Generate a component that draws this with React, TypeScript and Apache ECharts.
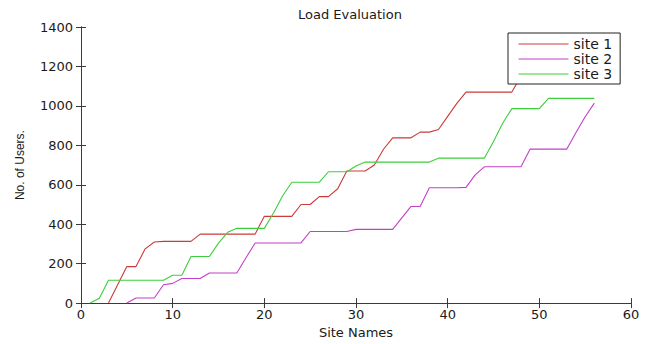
import React, { useEffect, useRef } from "react";
import * as echarts from "echarts";

const titleText = "Load Evaluation";
const xAxisName = "Site Names";
const yAxisName = "No. of Users.";
const seriesNames = ["site 1", "site 2", "site 3"];
const seriesColors = ["#cc3a3a", "#c440c8", "#3ccf3c"];

const xTicks = { min: 0, max: 60, interval: 10 };
const yTicks = { min: 0, max: 1400, interval: 200 };

// each series: first site index, then one value per site
const site1Start = 3;
const site1Values = [
  0, 93, 185, 185, 275, 310, 313, 313, 313, 313, 350, 350, 350, 350, 350, 350, 350,
  440, 440, 440, 440, 500, 500, 540, 540, 580, 670, 670, 670, 700, 780, 838, 838, 838,
  867, 867, 880, 947, 1013, 1070, 1070, 1070, 1070, 1070, 1070, 1150, 1200, 1210, 1210,
  1210, 1210, 1240, 1270, 1290,
];

const site2Start = 5;
const site2Values = [
  0, 26, 26, 26, 93, 100, 125, 125, 125, 153, 153, 153, 153, 230, 305, 305, 305, 305,
  305, 305, 363, 363, 363, 363, 363, 374, 374, 374, 374, 374, 432, 490, 490, 585, 585,
  585, 585, 587, 650, 691, 691, 691, 691, 691, 781, 781, 781, 781, 781, 865, 945, 1014,
];

const site3Start = 1;
const site3Values = [
  0, 25, 116, 116, 116, 116, 116, 116, 116, 141, 141, 236, 236, 236, 304, 359, 379,
  379, 379, 379, 457, 544, 613, 613, 613, 613, 666, 666, 666, 695, 715, 715, 715, 715,
  715, 715, 715, 715, 735, 735, 735, 735, 735, 735, 819, 912, 986, 986, 986, 986, 1038,
  1038, 1038, 1038, 1038, 1038,
];

const toPairs = (start: number, vals: number[]) => vals.map((v, i) => [start + i, v]);

const FONT = "DejaVu Sans";
const AXIS_COLOR = "#3a3a3a";
const TEXT_COLOR = "#1a1a1a";

export default function App() {
  const ref = useRef<HTMLDivElement>(null);
  useEffect(() => {
    if (!ref.current) return;
    const chart = echarts.init(ref.current, undefined, { renderer: "svg" });
    const tickStyle = { show: true, inside: true, length: 5, lineStyle: { color: AXIS_COLOR } };
    const lineStyle = { show: true, lineStyle: { color: AXIS_COLOR, width: 1 } };
    const plain = (v: number) => String(v);
    const seriesData = [
      toPairs(site1Start, site1Values),
      toPairs(site2Start, site2Values),
      toPairs(site3Start, site3Values),
    ];
    chart.setOption({
      animation: false,
      backgroundColor: "#ffffff",
      title: {
        text: titleText,
        left: 298,
        top: 8,
        padding: 0,
        textStyle: { fontFamily: FONT, fontSize: 13, fontWeight: "normal", color: TEXT_COLOR },
      },
      legend: {
        orient: "vertical",
        left: 508,
        top: 33,
        padding: [4, 8, 3, 10],
        itemWidth: 50,
        itemHeight: 14,
        itemGap: 1,
        backgroundColor: "#ffffff",
        borderColor: "#222222",
        borderWidth: 1,
        borderRadius: 0,
        itemStyle: { opacity: 0 },
        lineStyle: { width: 1 },
        textStyle: { fontFamily: FONT, fontSize: 14, color: TEXT_COLOR },
        data: seriesNames,
        z: 10,
      },
      grid: { left: 81, right: 15, top: 27, bottom: 32, containLabel: false },
      xAxis: [
        {
          type: "value",
          ...xTicks,
          position: "bottom",
          axisLine: lineStyle,
          axisTick: tickStyle,
          splitLine: { show: false },
          axisLabel: { margin: 5, fontFamily: FONT, fontSize: 13, color: TEXT_COLOR, formatter: plain },
          name: xAxisName,
          nameLocation: "middle",
          nameGap: 18,
          nameTextStyle: { fontFamily: FONT, fontSize: 13, color: TEXT_COLOR },
        },
        {
          type: "value",
          ...xTicks,
          position: "top",
          axisLine: lineStyle,
          axisTick: tickStyle,
          splitLine: { show: false },
          axisLabel: { show: false },
        },
      ],
      yAxis: [
        {
          type: "value",
          ...yTicks,
          position: "left",
          axisLine: lineStyle,
          axisTick: tickStyle,
          splitLine: { show: false },
          axisLabel: { margin: 8, fontFamily: FONT, fontSize: 13, color: TEXT_COLOR, formatter: plain },
          name: yAxisName,
          nameLocation: "middle",
          nameGap: 55,
          nameTextStyle: { fontFamily: "Liberation Sans", fontSize: 12, color: TEXT_COLOR },
        },
        {
          type: "value",
          ...yTicks,
          position: "right",
          axisLine: lineStyle,
          axisTick: tickStyle,
          splitLine: { show: false },
          axisLabel: { show: false },
        },
      ],
      series: seriesNames.map((name, i) => ({
        name,
        type: "line",
        xAxisIndex: 0,
        yAxisIndex: 0,
        data: seriesData[i],
        symbol: "none",
        showSymbol: false,
        color: seriesColors[i],
        lineStyle: { color: seriesColors[i], width: 1.1 },
        clip: true,
      })),
    });
    return () => chart.dispose();
  }, []);
  return (
    <div
      ref={ref}
      style={{ position: "absolute", left: 0, top: 0, width: 646, height: 344 }}
    />
  );
}
